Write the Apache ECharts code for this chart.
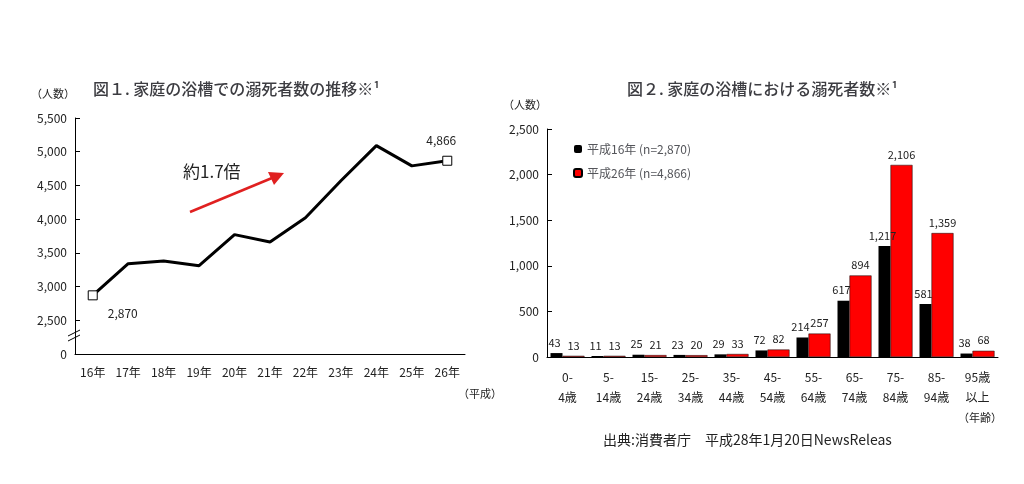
<html>
<head>
<meta charset="utf-8" />
<script src="https://cdn.jsdelivr.net/npm/echarts@6/dist/echarts.min.js"></script>
<style>
body { margin: 0; background: #fff; }
#main { width: 1024px; height: 484px; }
</style>
</head>
<body>
<div id="main"></div>
<script>
var years = ['16年', '17年', '18年', '19年', '20年', '21年', '22年', '23年', '24年', '25年', '26年'];
var deaths = [2870, 3340, 3380, 3310, 3770, 3660, 4020, 4570, 5090, 4790, 4866];
var ages = ['0-\n4歳', '5-\n14歳', '15-\n24歳', '25-\n34歳', '35-\n44歳', '45-\n54歳', '55-\n64歳', '65-\n74歳', '75-\n84歳', '85-\n94歳', '95歳\n以上'];
var h16 = [43, 11, 25, 23, 29, 72, 214, 617, 1217, 581, 38];
var h26 = [13, 13, 21, 20, 33, 82, 257, 894, 2106, 1359, 68];

var font = 'Noto Sans CJK JP';
var chart = echarts.init(document.getElementById('main'));

// left axis is broken: the "0" tick sits where 2000 would be
function fmt(v) { return v === 2000 ? '0' : v.toLocaleString('en-US'); }

chart.setOption({
	textStyle: { fontFamily: font, color: '#222' },
	animation: false,
	title: [
		{ text: '図１. 家庭の浴槽での溺死者数の推移※¹', left: 88, top: 76, textStyle: { fontSize: 16, fontWeight: 500, fontFamily: font } },
		{ text: '図２. 家庭の浴槽における溺死者数※¹', left: 622, top: 76, textStyle: { fontSize: 16, fontWeight: 500, fontFamily: font } }
	],
	legend: {
		data: ['平成16年 (n=2,870)', '平成26年 (n=4,866)'],
		orient: 'vertical', left: 568, top: 138, itemWidth: 8, itemHeight: 8, itemGap: 12,
		textStyle: { fontSize: 12, fontFamily: font }
	},
	grid: [
		{ left: 75, right: 559, top: 118, height: 236 },
		{ left: 547, right: 26, top: 129, height: 228 }
	],
	xAxis: [
		{ gridIndex: 0, type: 'category', data: years, boundaryGap: true,
			axisLine: { lineStyle: { color: '#000' } }, axisTick: { show: false },
			axisLabel: { color: '#222', fontSize: 12, margin: 12 } },
		{ gridIndex: 1, type: 'category', data: ages,
			axisLine: { lineStyle: { color: '#000' } }, axisTick: { show: false },
			axisLabel: { color: '#222', fontSize: 12, lineHeight: 20, interval: 0, margin: 10 } }
	],
	yAxis: [
		{ gridIndex: 0, type: 'value', min: 2000, max: 5500, interval: 500, name: '（人数）',
			nameTextStyle: { fontSize: 11, align: 'right', padding: [0, 0, 4, 0] },
			splitLine: { show: false }, axisLine: { show: true, lineStyle: { color: '#000' } },
			axisTick: { show: true, inside: true }, axisLabel: { formatter: fmt, color: '#222', fontSize: 12 } },
		{ gridIndex: 1, type: 'value', min: 0, max: 2500, interval: 500, name: '（人数）',
			nameTextStyle: { fontSize: 11, align: 'right', padding: [0, 0, 4, 0] },
			splitLine: { show: false }, axisLine: { show: true, lineStyle: { color: '#000' } },
			axisTick: { show: true, inside: true }, axisLabel: { formatter: function (v) { return v.toLocaleString('en-US'); }, color: '#222', fontSize: 12 } }
	],
	series: [
		{ type: 'line', xAxisIndex: 0, yAxisIndex: 0, data: deaths.map(function (v, i) {
				var d = { value: v, symbol: 'none' };
				if (i === 0) d = { value: v, symbol: 'rect', label: { show: true, position: 'bottom', offset: [30, 2] } };
				if (i === deaths.length - 1) d = { value: v, symbol: 'rect', label: { show: true, position: 'top', offset: [-6, -4] } };
				return d;
			}),
			symbolSize: 9, itemStyle: { color: '#fff', borderColor: '#000', borderWidth: 1 },
			lineStyle: { color: '#000', width: 3 },
			label: { formatter: function (p) { return p.value.toLocaleString('en-US'); }, color: '#222', fontSize: 12 } },
		{ name: '平成16年 (n=2,870)', type: 'bar', xAxisIndex: 1, yAxisIndex: 1, data: h16, barWidth: 12, barGap: '0%',
			itemStyle: { color: '#000' },
			label: { show: true, position: 'top', color: '#222', fontSize: 11, offset: [-2, 0], formatter: function (p) { return p.value.toLocaleString('en-US'); } } },
		{ name: '平成26年 (n=4,866)', type: 'bar', xAxisIndex: 1, yAxisIndex: 1, data: h26, barWidth: 22,
			itemStyle: { color: '#ff0000', borderColor: '#000', borderWidth: 0.5 },
			label: { show: true, position: 'top', color: '#222', fontSize: 11, offset: [0, 0], formatter: function (p) { return p.value.toLocaleString('en-US'); } } }
	],
	graphic: [
		{ type: 'text', left: 183, top: 163, style: { text: '約1.7倍', fontSize: 17, fontFamily: font, fill: '#222' } },
		{ type: 'line', shape: { x1: 190, y1: 212, x2: 272, y2: 178 }, style: { stroke: '#e02020', lineWidth: 2.5 } },
		{ type: 'polygon', shape: { points: [[284, 173], [268, 172], [274, 185]] }, style: { fill: '#e02020' } },
		{ type: 'rect', shape: { x: 70, y: 330, width: 10, height: 8 }, style: { fill: '#fff' } },
		{ type: 'line', shape: { x1: 68, y1: 336, x2: 80, y2: 330 }, style: { stroke: '#000', lineWidth: 1 } },
		{ type: 'line', shape: { x1: 68, y1: 341, x2: 80, y2: 335 }, style: { stroke: '#000', lineWidth: 1 } },
		{ type: 'text', left: 458, top: 388, style: { text: '（平成）', fontSize: 11, fontFamily: font, fill: '#222' } },
		{ type: 'text', left: 958, top: 412, style: { text: '（年齢）', fontSize: 11, fontFamily: font, fill: '#222' } },
		{ type: 'text', left: 603, top: 433, style: { text: '出典:消費者庁　平成28年1月20日NewsReleas', fontSize: 14, fontFamily: font, fill: '#222' } }
	]
});
</script>
</body>
</html>
